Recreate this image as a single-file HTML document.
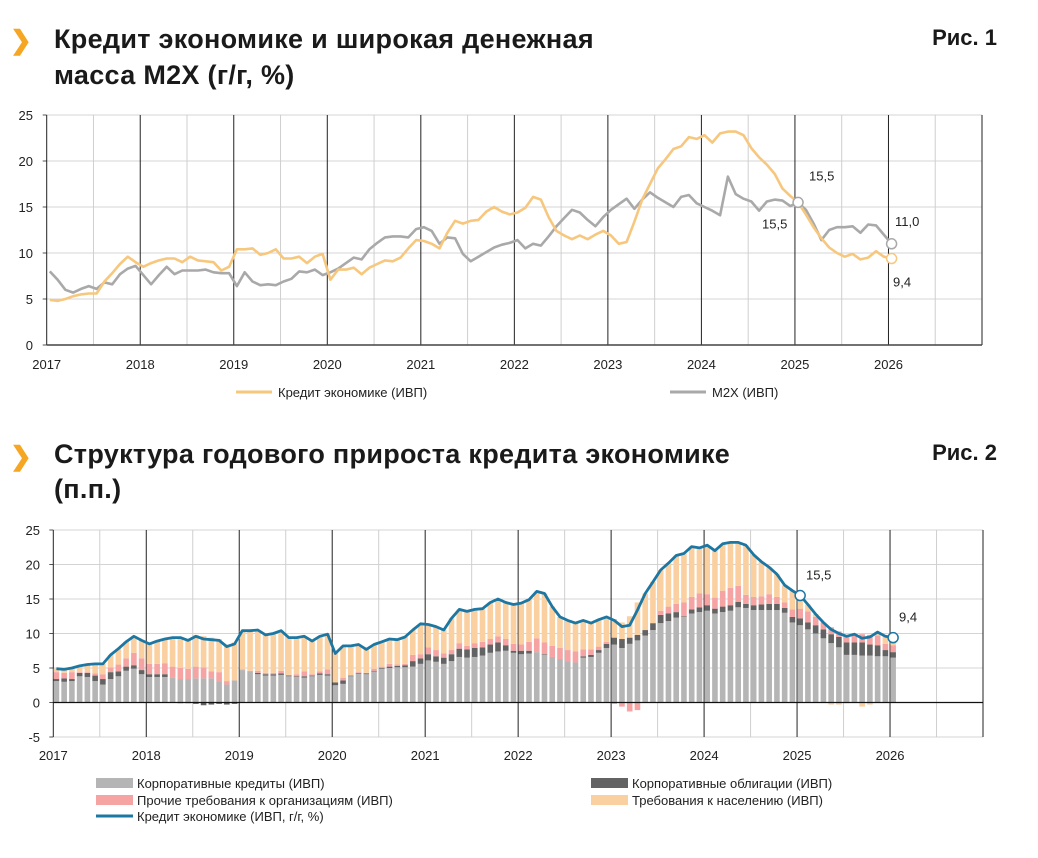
<!DOCTYPE html>
<html><head><meta charset="utf-8">
<style>
html,body{margin:0;padding:0;background:#fff;}
svg{display:block;font-family:"Liberation Sans",sans-serif;}
</style></head>
<body>
<svg id="page" width="1038" height="858" viewBox="0 0 1038 858" xmlns="http://www.w3.org/2000/svg">
  <g>
    <text x="10" y="49" font-size="26" font-weight="bold" fill="#F5A623">❯</text>
    <text x="54" y="48" font-size="27" font-weight="bold" letter-spacing="0.3" fill="#1a1a1a">Кредит экономике и широкая денежная</text>
    <text x="54" y="84" font-size="27" font-weight="bold" letter-spacing="0.3" fill="#1a1a1a">масса М2Х (г/г, %)</text>
    <text x="997" y="45" font-size="22" font-weight="bold" fill="#1a1a1a" text-anchor="end">Рис. 1</text>
  </g>
  <g>
    <text x="10" y="465" font-size="26" font-weight="bold" fill="#F5A623">❯</text>
    <text x="54" y="463" font-size="27" font-weight="bold" letter-spacing="0.3" fill="#1a1a1a">Структура годового прироста кредита экономике</text>
    <text x="54" y="498" font-size="27" font-weight="bold" letter-spacing="0.3" fill="#1a1a1a">(п.п.)</text>
    <text x="997" y="460" font-size="22" font-weight="bold" fill="#1a1a1a" text-anchor="end">Рис. 2</text>
  </g>
  <g id="c1"></g>
  <g id="c2"></g>
  <g>
    <line x1="236" y1="392" x2="272" y2="392" stroke="#F7C77E" stroke-width="3"/>
    <text x="278" y="397" font-size="13" fill="#222">Кредит экономике (ИВП)</text>
    <line x1="670" y1="392" x2="706" y2="392" stroke="#A9A9A9" stroke-width="3"/>
    <text x="712" y="397" font-size="13" fill="#222">М2Х (ИВП)</text>
  </g>
  <g>
    <rect x="96" y="778" width="37" height="10" fill="#B5B5B5"/>
    <text x="137" y="788" font-size="13" fill="#222">Корпоративные кредиты (ИВП)</text>
    <rect x="591" y="778" width="37" height="10" fill="#636363"/>
    <text x="632" y="788" font-size="13" fill="#222">Корпоративные облигации (ИВП)</text>
    <rect x="96" y="795" width="37" height="10" fill="#F5A3A3"/>
    <text x="137" y="805" font-size="13" fill="#222">Прочие требования к организациям (ИВП)</text>
    <rect x="591" y="795" width="37" height="10" fill="#FBD0A0"/>
    <text x="632" y="805" font-size="13" fill="#222">Требования к населению (ИВП)</text>
    <line x1="96" y1="816" x2="133" y2="816" stroke="#1C77A3" stroke-width="3"/>
    <text x="137" y="821" font-size="13" fill="#222">Кредит экономике (ИВП, г/г, %)</text>
  </g>
</svg>
<script>
const years = ["2017","2018","2019","2020","2021","2022","2023","2024","2025","2026"];
const yTicks1 = [0,5,10,15,20,25];
const yTicks2 = [-5,0,5,10,15,20,25];
const credit = [4.9,4.8,5.0,5.3,5.5,5.6,5.6,6.9,7.8,8.8,9.6,9.0,
8.5,8.9,9.2,9.4,9.4,9.0,9.6,9.2,9.1,9.0,8.1,8.5,
10.4,10.4,10.5,9.8,10.0,10.4,9.4,9.4,9.6,8.9,9.6,9.9,
7.1,8.2,8.2,8.4,7.7,8.4,8.8,9.2,9.1,9.5,10.5,11.4,
11.3,11.0,10.5,12.2,13.5,13.2,13.5,13.6,14.5,15.0,14.5,14.2,
14.4,14.9,16.1,15.8,13.9,12.4,11.9,11.5,11.9,11.5,12.0,12.4,
11.9,11.0,11.2,13.4,15.8,17.5,19.2,20.2,21.3,21.6,22.6,22.4,
22.8,22.0,23.0,23.2,23.2,22.8,21.4,20.4,19.6,18.6,17.0,16.2,
15.5,14.2,12.8,11.6,10.6,10.0,9.6,9.9,9.3,9.5,10.2,9.6,
9.4];
const m2x = [8.0,7.1,6.0,5.7,6.1,6.4,6.1,6.8,6.6,7.7,8.3,8.6,
7.6,6.6,7.6,8.5,7.7,8.1,8.1,8.1,8.2,7.9,7.8,7.8,
6.4,7.9,6.9,6.5,6.6,6.5,6.9,7.2,8.0,7.9,8.2,7.6,
7.9,8.3,8.9,9.5,9.3,10.4,11.1,11.7,11.8,11.8,11.7,12.6,
12.8,12.4,11.0,11.7,11.6,9.9,9.1,9.6,10.1,10.6,10.9,11.1,
11.4,10.5,11.0,10.8,11.8,12.9,13.8,14.7,14.4,13.6,12.9,13.9,
14.7,15.3,15.9,14.8,15.8,16.6,16.0,15.5,15.0,16.1,16.3,15.4,
15.0,14.6,14.1,18.3,16.4,15.9,15.6,14.6,15.6,15.8,15.7,15.1,
15.5,14.7,13.2,11.4,12.5,12.8,12.8,12.9,12.2,13.1,13.0,12.0,
11.0];
const corpLoans = [3.1,3.0,3.1,3.8,3.7,3.1,2.6,3.4,3.8,4.6,4.9,4.1,
3.7,3.7,3.7,3.6,3.4,3.4,3.5,3.5,3.5,3.1,2.6,3.2,
4.7,4.5,4.1,3.9,3.9,4.0,3.8,3.7,3.6,3.8,4.0,3.9,
2.5,2.7,3.8,4.2,4.1,4.5,4.9,5.0,5.1,5.1,5.2,5.6,
6.1,5.9,5.6,6.0,6.6,6.5,6.6,6.8,7.2,7.4,7.5,7.2,
7.0,7.1,7.3,6.9,6.6,6.3,6.0,5.8,6.5,6.6,7.2,7.9,
8.4,7.9,8.5,9.0,9.7,10.5,11.5,11.8,12.3,12.4,12.9,13.1,
13.3,12.9,13.1,13.3,13.8,13.7,13.4,13.4,13.4,13.4,13.0,11.6,
11.2,10.6,10.0,9.3,8.6,8.0,6.9,6.9,6.8,6.8,6.7,6.7,
6.5];
const corpBonds = [0.3,0.5,0.3,0.5,0.6,0.8,0.8,1.0,0.7,0.6,0.5,0.6,
0.4,0.4,0.4,0,-0.1,-0.1,-0.2,-0.4,-0.3,-0.2,-0.3,-0.2,
0,0,0.2,0.2,0.2,0.2,0.1,0.1,0.2,0.1,0.2,0.2,
0.4,0.5,0.1,0.1,0.1,0.1,0.1,0.2,0.2,0.3,0.8,0.8,
0.9,0.8,0.9,1.0,1.2,1.2,1.3,1.2,1.2,1.3,0.8,0.3,
0.5,0.4,0,0.1,0,0,0,0,0.2,0.3,0.4,0.6,
1.0,1.3,0.9,0.8,0.8,1.0,1.2,1.1,0.8,0.1,0.6,0.7,
0.8,0.7,0.8,0.8,0.8,0.6,0.7,0.8,0.9,0.9,0.7,0.8,
1.0,1.0,1.2,1.3,1.3,1.5,1.8,1.8,1.9,1.6,1.6,0.9,
0.8];
const otherClaims = [1.0,0.8,1.0,0.1,0.1,0.3,0.7,0.7,1.0,1.2,1.8,1.7,
1.5,1.5,1.6,1.6,1.6,1.5,1.7,1.6,1.0,1.3,0.5,0,
0.1,0.1,0.3,0.2,0.2,0.4,0.1,0.3,0.7,0.2,0.3,0.7,
0,0.4,0,0.1,0.1,0.3,0.2,0.4,0.2,0.2,0.9,0.6,
1.0,0.9,0.6,0.6,0.8,0.5,0.7,0.8,0.8,0.9,0.9,1.0,
0.9,1.3,2.0,1.7,1.6,1.6,1.6,1.6,1.0,0.8,0.5,0.3,
-0.2,-0.6,-1.3,-1.1,0,0,0.6,1.0,1.2,2.0,1.8,2.0,
1.6,1.6,2.3,2.5,2.3,1.3,1.2,1.2,1.4,1.0,0.8,1.1,
1.4,1.6,1.2,1.0,1.0,0.8,1.0,1.0,1.2,1.4,1.4,0.9,
1.0];
const households = [0.5,0.5,0.6,0.9,1.1,1.4,1.5,1.8,2.3,2.4,2.4,2.6,
2.9,3.3,3.5,4.2,4.5,4.2,4.6,4.5,4.9,4.8,5.3,5.5,
5.6,5.8,5.9,5.5,5.7,5.8,5.4,5.3,5.1,4.8,5.1,5.1,
4.2,4.6,4.3,4.0,3.4,3.5,3.6,3.6,3.6,3.9,3.6,4.4,
3.3,3.4,3.4,4.6,4.9,5.0,4.9,4.8,5.3,5.4,5.3,5.7,
6.0,6.1,6.8,7.1,5.7,4.5,4.3,4.1,4.2,3.8,3.9,3.6,
2.7,2.4,3.1,4.7,5.3,6.0,5.9,6.3,7.0,7.1,7.3,6.6,
7.1,6.8,6.8,6.6,6.3,7.2,6.1,5.0,3.9,3.3,2.5,2.7,
1.9,1.0,0.4,0,-0.3,-0.3,-0.1,0.2,-0.6,-0.3,0.5,1.1,
1.1];

const NS = "http://www.w3.org/2000/svg";
function mk(parent, tag, attrs){
  const e = document.createElementNS(NS, tag);
  for (const k in attrs) e.setAttribute(k, attrs[k]);
  parent.appendChild(e);
  return e;
}
const OFF = 0.4;

/* ---------- Chart 1 ---------- */
const c1 = document.getElementById("c1");
const X1L = 46.7, X1R = 982, Y1T = 115, Y1B = 345, PY1 = (X1R - X1L) / 10;
function x1(i){ return X1L + (i + OFF) * PY1 / 12; }
function y1(v){ return Y1B - (v / 25) * (Y1B - Y1T); }
function drawGrid(g, xl, xr, yt, yb, py, yfn, ticks, yMinLabelX, xLabelY){
  for (const t of ticks){
    const ln = mk(g, "line", {x1: xl, x2: xr, y1: yfn(t), y2: yfn(t), stroke: "#d4d4d4", "stroke-width": 1});
    
    
    const tk = mk(g, "line", {x1: xl - 4, x2: xl, y1: yfn(t), y2: yfn(t), stroke: "#555", "stroke-width": 1});
    
    
    const tx = mk(g, "text", {x: yMinLabelX, y: yfn(t) + 5, "font-size": 13, "text-anchor": "end", fill: "#222"});
    tx.textContent = String(t);
    
    
  }
  for (let k = 0; k <= 10; k++){
    const xv = xl + k * py;
    const yl = mk(g, "line", {x1: xv, x2: xv, y1: yt, y2: yb, stroke: "#222", "stroke-width": 1});
    
    
    if (k < 10){
      const hl = mk(g, "line", {x1: xv + py/2, x2: xv + py/2, y1: yt, y2: yb, stroke: "#cfcfcf", "stroke-width": 1});
      
      
    }
    if (k < years.length){
      const tx = mk(g, "text", {x: xv, y: xLabelY, "font-size": 13, "text-anchor": "middle", fill: "#222"});
      tx.textContent = years[k];
      
      
    }
  }
}
drawGrid(c1, X1L, X1R, Y1T, Y1B, PY1, y1, yTicks1, 33, 369);
const xAxis1 = mk(c1, "line", {x1: X1L, x2: X1R, y1: Y1B, y2: Y1B, stroke: "#444", "stroke-width": 1.5});



function linePath(arr, xf, yf){
  return arr.map((v, i) => (i ? "L" : "M") + xf(i).toFixed(1) + "," + yf(v).toFixed(1)).join(" ");
}
const m2xLine = mk(c1, "path", {d: linePath(m2x, x1, y1), fill: "none", stroke: "#A9A9A9", "stroke-width": 2.6, "stroke-linejoin": "round"});


const creditLine1 = mk(c1, "path", {d: linePath(credit, x1, y1), fill: "none", stroke: "#F7C77E", "stroke-width": 2.6, "stroke-linejoin": "round"});



const iJ25 = 96, iLast = credit.length - 1;
const mk1 = mk(c1, "circle", {cx: x1(iJ25), cy: y1(credit[iJ25]), r: 5, fill: "#fff", stroke: "#A9A9A9", "stroke-width": 1.5});


const mk2 = mk(c1, "circle", {cx: x1(iLast), cy: y1(m2x[iLast]), r: 5, fill: "#fff", stroke: "#A9A9A9", "stroke-width": 1.5});


const mk3 = mk(c1, "circle", {cx: x1(iLast), cy: y1(credit[iLast]), r: 5, fill: "#fff", stroke: "#F7C77E", "stroke-width": 1.5});


function label(g, x, y, s, name){
  const t = mk(g, "text", {x: x, y: y, "font-size": 13, fill: "#222"});
  t.textContent = s;
  
  
}
label(c1, 809, y1(credit[iJ25]) - 22, credit[iJ25].toFixed(1).replace(".", ","), "credit-2025-value-label");
label(c1, 762, y1(m2x[iJ25]) + 26, m2x[iJ25].toFixed(1).replace(".", ","), "m2x-2025-value-label");
label(c1, 895, y1(m2x[iLast]) - 18, m2x[iLast].toFixed(1).replace(".", ","), "m2x-last-value-label");
label(c1, 893, y1(credit[iLast]) + 28, credit[iLast].toFixed(1).replace(".", ","), "credit-last-value-label");

/* ---------- Chart 2 ---------- */
const c2 = document.getElementById("c2");
const X2L = 53.3, X2R = 983, Y2T = 530, Y2B = 737, PY2 = (X2R - X2L) / 10;
function x2(i){ return X2L + (i + OFF) * PY2 / 12; }
function y2(v){ return Y2B - ((v + 5) / 30) * (Y2B - Y2T); }
drawGrid(c2, X2L, X2R, Y2T, Y2B, PY2, y2, yTicks2, 40, 760);
const series = [
  {arr: corpLoans, color: "#B5B5B5", name: "bar-corp-loans"},
  {arr: corpBonds, color: "#636363", name: "bar-corp-bonds"},
  {arr: otherClaims, color: "#F5A3A3", name: "bar-other-claims"},
  {arr: households, color: "#FBD0A0", name: "bar-households"}
];
const bw = 5.6;
for (let i = 0; i < credit.length; i++){
  let pos = 0, neg = 0;
  for (const s of series){
    const v = s.arr[i];
    let top, bot;
    if (v >= 0){ bot = pos; top = pos + v; pos = top; }
    else { top = neg; bot = neg + v; neg = bot; }
    const r = mk(c2, "rect", {x: x2(i) - bw/2, y: y2(top), width: bw, height: Math.max(0, y2(bot) - y2(top)), fill: s.color});
    
    
  }
}
const zero2 = mk(c2, "line", {x1: X2L, x2: X2R, y1: y2(0), y2: y2(0), stroke: "#111", "stroke-width": 1.2});


const creditLine2 = mk(c2, "path", {d: linePath(credit, x2, y2), fill: "none", stroke: "#1C77A3", "stroke-width": 2.8, "stroke-linejoin": "round"});


const mk4 = mk(c2, "circle", {cx: x2(iJ25), cy: y2(credit[iJ25]), r: 5, fill: "#fff", stroke: "#1C77A3", "stroke-width": 1.5});


const mk5 = mk(c2, "circle", {cx: x2(iLast), cy: y2(credit[iLast]), r: 5, fill: "#fff", stroke: "#1C77A3", "stroke-width": 1.5});


label(c2, 806, y2(credit[iJ25]) - 16, credit[iJ25].toFixed(1).replace(".", ","), "credit-2025-value-label");
label(c2, 899, y2(credit[iLast]) - 16, credit[iLast].toFixed(1).replace(".", ","), "credit-last-value-label");
</script>
</body></html>
